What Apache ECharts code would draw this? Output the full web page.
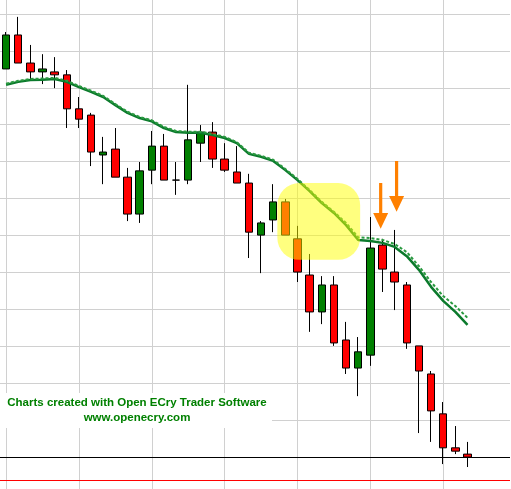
<!DOCTYPE html>
<html>
<head>
<meta charset="utf-8">
<script src="https://cdn.jsdelivr.net/npm/echarts@6/dist/echarts.min.js"></script>
<style>
  html, body { margin: 0; padding: 0; background: #ffffff; }
  #chart { width: 511px; height: 489px; }
</style>
</head>
<body>
<div id="chart"></div>
<script>
// Daily session labels (the last three slots are empty space on the right)
const dates = [
  '09/02','09/03','09/04','09/05','09/08','09/09','09/10','09/11','09/12',
  '09/15','09/16','09/17','09/18','09/19','09/22','09/23','09/24','09/25','09/26',
  '09/29','09/30','10/01','10/02','10/03','10/06','10/07','10/08','10/09','10/10',
  '10/13','10/14','10/15','10/16','10/17','10/20','10/21','10/22','10/23','10/24',
  '10/27','10/28','10/29'
];

// OHLC values per session
const openPrices  = [48.51, 49.43, 48.67, 48.43, 48.43, 48.35, 47.43, 47.26, 46.18, 46.34,
                     45.58, 44.58, 45.77, 46.42, 45.50, 45.50, 46.50, 46.80, 46.07, 45.72,
                     45.42, 44.01, 44.42, 44.91, 43.91, 42.93, 41.93, 42.66, 41.17, 40.41,
                     40.76, 43.74, 43.01, 42.66, 41.01, 40.25, 39.17, 38.25, 38.08];
const closePrices = [49.43, 48.67, 48.43, 48.51, 48.35, 47.43, 47.15, 46.26, 46.26, 45.58,
                     44.58, 45.75, 46.42, 45.50, 45.50, 46.59, 46.80, 46.07, 45.77, 45.42,
                     44.09, 44.34, 44.91, 44.01, 43.01, 41.93, 42.66, 41.09, 40.41, 40.85,
                     43.66, 43.09, 42.74, 41.09, 40.33, 39.25, 38.25, 38.16, 38.00];
const lowPrices   = [48.51, 48.67, 48.24, 48.10, 47.99, 46.91, 46.91, 45.88, 45.39, 45.58,
                     44.39, 44.34, 45.39, 45.50, 45.10, 45.39, 45.99, 45.83, 45.72, 45.42,
                     43.39, 42.98, 44.09, 44.01, 42.74, 41.39, 41.60, 41.01, 40.25, 39.65,
                     40.47, 42.47, 41.98, 40.93, 38.65, 38.41, 37.81, 38.08, 37.73];
const highPrices  = [49.51, 49.92, 49.16, 48.91, 48.83, 48.48, 47.75, 47.32, 46.67, 46.91,
                     45.83, 45.99, 46.83, 46.75, 45.99, 48.08, 46.99, 47.07, 46.50, 46.42,
                     45.67, 44.39, 45.39, 44.99, 44.26, 43.50, 42.90, 42.90, 41.66, 41.25,
                     44.50, 43.91, 44.15, 42.74, 41.01, 40.33, 39.49, 38.84, 38.41];

// Moving averages (solid and dashed)
const maSolid  = [48.08, 48.16, 48.21, 48.22, 48.24, 48.16, 48.02, 47.89, 47.75, 47.53,
                  47.32, 47.18, 47.09, 46.91, 46.80, 46.78, 46.78, 46.72, 46.64, 46.50,
                  46.21, 46.13, 46.02, 45.77, 45.50, 45.20, 44.88, 44.61, 44.28, 43.88,
                  43.85, 43.80, 43.69, 43.44, 43.07, 42.61, 42.23, 41.93, 41.58];
const maDashed = [48.11, 48.19, 48.24, 48.25, 48.27, 48.19, 48.05, 47.92, 47.78, 47.56,
                  47.35, 47.21, 47.12, 46.94, 46.83, 46.81, 46.81, 46.75, 46.67, 46.53,
                  46.24, 46.16, 46.05, 45.80, 45.53, 45.23, 44.91, 44.64, 44.34, 43.95,
                  43.93, 43.88, 43.77, 43.55, 43.17, 42.74, 42.36, 42.09, 41.77];

const lastPrice = 38.00;
const stopLevel = 37.38;

// Price levels and sessions carrying grid lines
const priceLevels = [38, 39, 40, 41, 42, 43, 44, 45, 46, 47, 48, 49, 50];
const gridSessions = [0, 6, 12, 18, 24, 30, 36];

// Visible price window
const priceMin = 37.135;
const priceMax = 50.377;

const ohlc = openPrices.map((o, i) => [o, closePrices[i], lowPrices[i], highPrices[i]]);

const chart = echarts.init(document.getElementById('chart'), null, { renderer: 'canvas' });

const GRID_COLOR = '#d0d0d0';
const gridLine = { color: GRID_COLOR, width: 1, type: 'solid' };

chart.setOption({
  animation: false,
  backgroundColor: '#ffffff',
  grid: { left: -1, right: 1, top: 0, bottom: 0, containLabel: false },
  xAxis: {
    type: 'category',
    data: dates,
    boundaryGap: true,
    axisLine: { show: false },
    axisTick: { show: false },
    axisLabel: { show: false },
    splitLine: { show: false }
  },
  yAxis: {
    type: 'value',
    min: priceMin,
    max: priceMax,
    axisLine: { show: false },
    axisTick: { show: false },
    axisLabel: { show: false },
    splitLine: { show: false }
  },
  series: [
    {
      name: 'grid',
      type: 'line',
      data: [],
      z: 0,
      silent: true,
      markLine: {
        z: 0,
        silent: true,
        symbol: ['none', 'none'],
        label: { show: false },
        lineStyle: gridLine,
        data: gridSessions.map(i => ({ xAxis: i }))
          .concat(priceLevels.map(p => ({ yAxis: p })))
      }
    },
    {
      name: 'price',
      type: 'candlestick',
      data: ohlc,
      barWidth: 8,
      z: 2,
      itemStyle: {
        color: '#008000',
        color0: '#ff0000',
        borderColor: '#000000',
        borderColor0: '#000000',
        borderColorDoji: '#000000',
        borderWidth: 1
      },
      markLine: {
        z: 5,
        silent: true,
        symbol: ['none', 'none'],
        label: { show: false },
        data: [
          { yAxis: lastPrice, lineStyle: { color: '#000000', width: 1, type: 'solid' } },
          { yAxis: stopLevel, lineStyle: { color: '#ff0000', width: 1, type: 'solid' } }
        ]
      }
    },
    {
      name: 'MA',
      type: 'line',
      data: maSolid,
      symbol: 'none',
      z: 3,
      lineStyle: { color: '#0b7a2c', width: 2.5 }
    },
    {
      name: 'MA2',
      type: 'line',
      data: maDashed,
      symbol: 'none',
      z: 4,
      lineStyle: { color: '#2a9a40', width: 2, type: [3, 2] }
    }
  ]
});

// Pixel position of a (possibly fractional) session index at a price
function toPixel(idx, price) {
  const i0 = Math.floor(idx), i1 = i0 + 1;
  const p0 = chart.convertToPixel({ gridIndex: 0 }, [i0, price]);
  const p1 = chart.convertToPixel({ gridIndex: 0 }, [i1, price]);
  const t = idx - i0;
  return [p0[0] + (p1[0] - p0[0]) * t, p0[1]];
}

// Highlighted zone around the break of the average
const zoneTL = toPixel(22.34, 45.42);
const zoneBR = toPixel(29.16, 43.34);

// Down arrows above the two rejection sessions: [session, shaft top, head top, tip]
const arrowSpecs = [
  [30.85, 45.42, 44.61, 44.18],
  [32.16, 46.02, 45.07, 44.64]
];

function arrowShape(spec) {
  const top = toPixel(spec[0], spec[1]);
  const neck = toPixel(spec[0], spec[2]);
  const tip = toPixel(spec[0], spec[3]);
  const x = top[0], sw = 1.6, hw = 7.5;
  return [
    [x - sw, top[1]], [x + sw, top[1]], [x + sw, neck[1]], [x + hw, neck[1]],
    [x, tip[1]], [x - hw, neck[1]], [x - sw, neck[1]]
  ];
}

const graphics = [
  {
    type: 'rect',
    z: 100,
    silent: true,
    shape: { x: zoneTL[0], y: zoneTL[1], width: zoneBR[0] - zoneTL[0], height: zoneBR[1] - zoneTL[1], r: 22 },
    style: { fill: 'rgba(255,255,0,0.5)' }
  }
];
arrowSpecs.forEach(spec => {
  graphics.push({
    type: 'polygon',
    z: 101,
    silent: true,
    shape: { points: arrowShape(spec) },
    style: { fill: '#ff8000' }
  });
});

// Credit box
const creditFont = 'bold 11.5px "Liberation Sans", Arial, sans-serif';
graphics.push({
  type: 'group',
  left: 0,
  top: 393,
  z: 102,
  silent: true,
  children: [
    { type: 'rect', shape: { x: 0, y: 0, width: 272, height: 35 }, style: { fill: '#ffffff' } },
    {
      type: 'text', x: 137, y: 4,
      style: { text: 'Charts created with Open ECry Trader Software', fill: '#008000',
               font: creditFont, textAlign: 'center' }
    },
    {
      type: 'text', x: 137, y: 19,
      style: { text: 'www.openecry.com', fill: '#008000',
               font: creditFont, textAlign: 'center' }
    }
  ]
});

chart.setOption({ graphic: graphics });
</script>
</body>
</html>
